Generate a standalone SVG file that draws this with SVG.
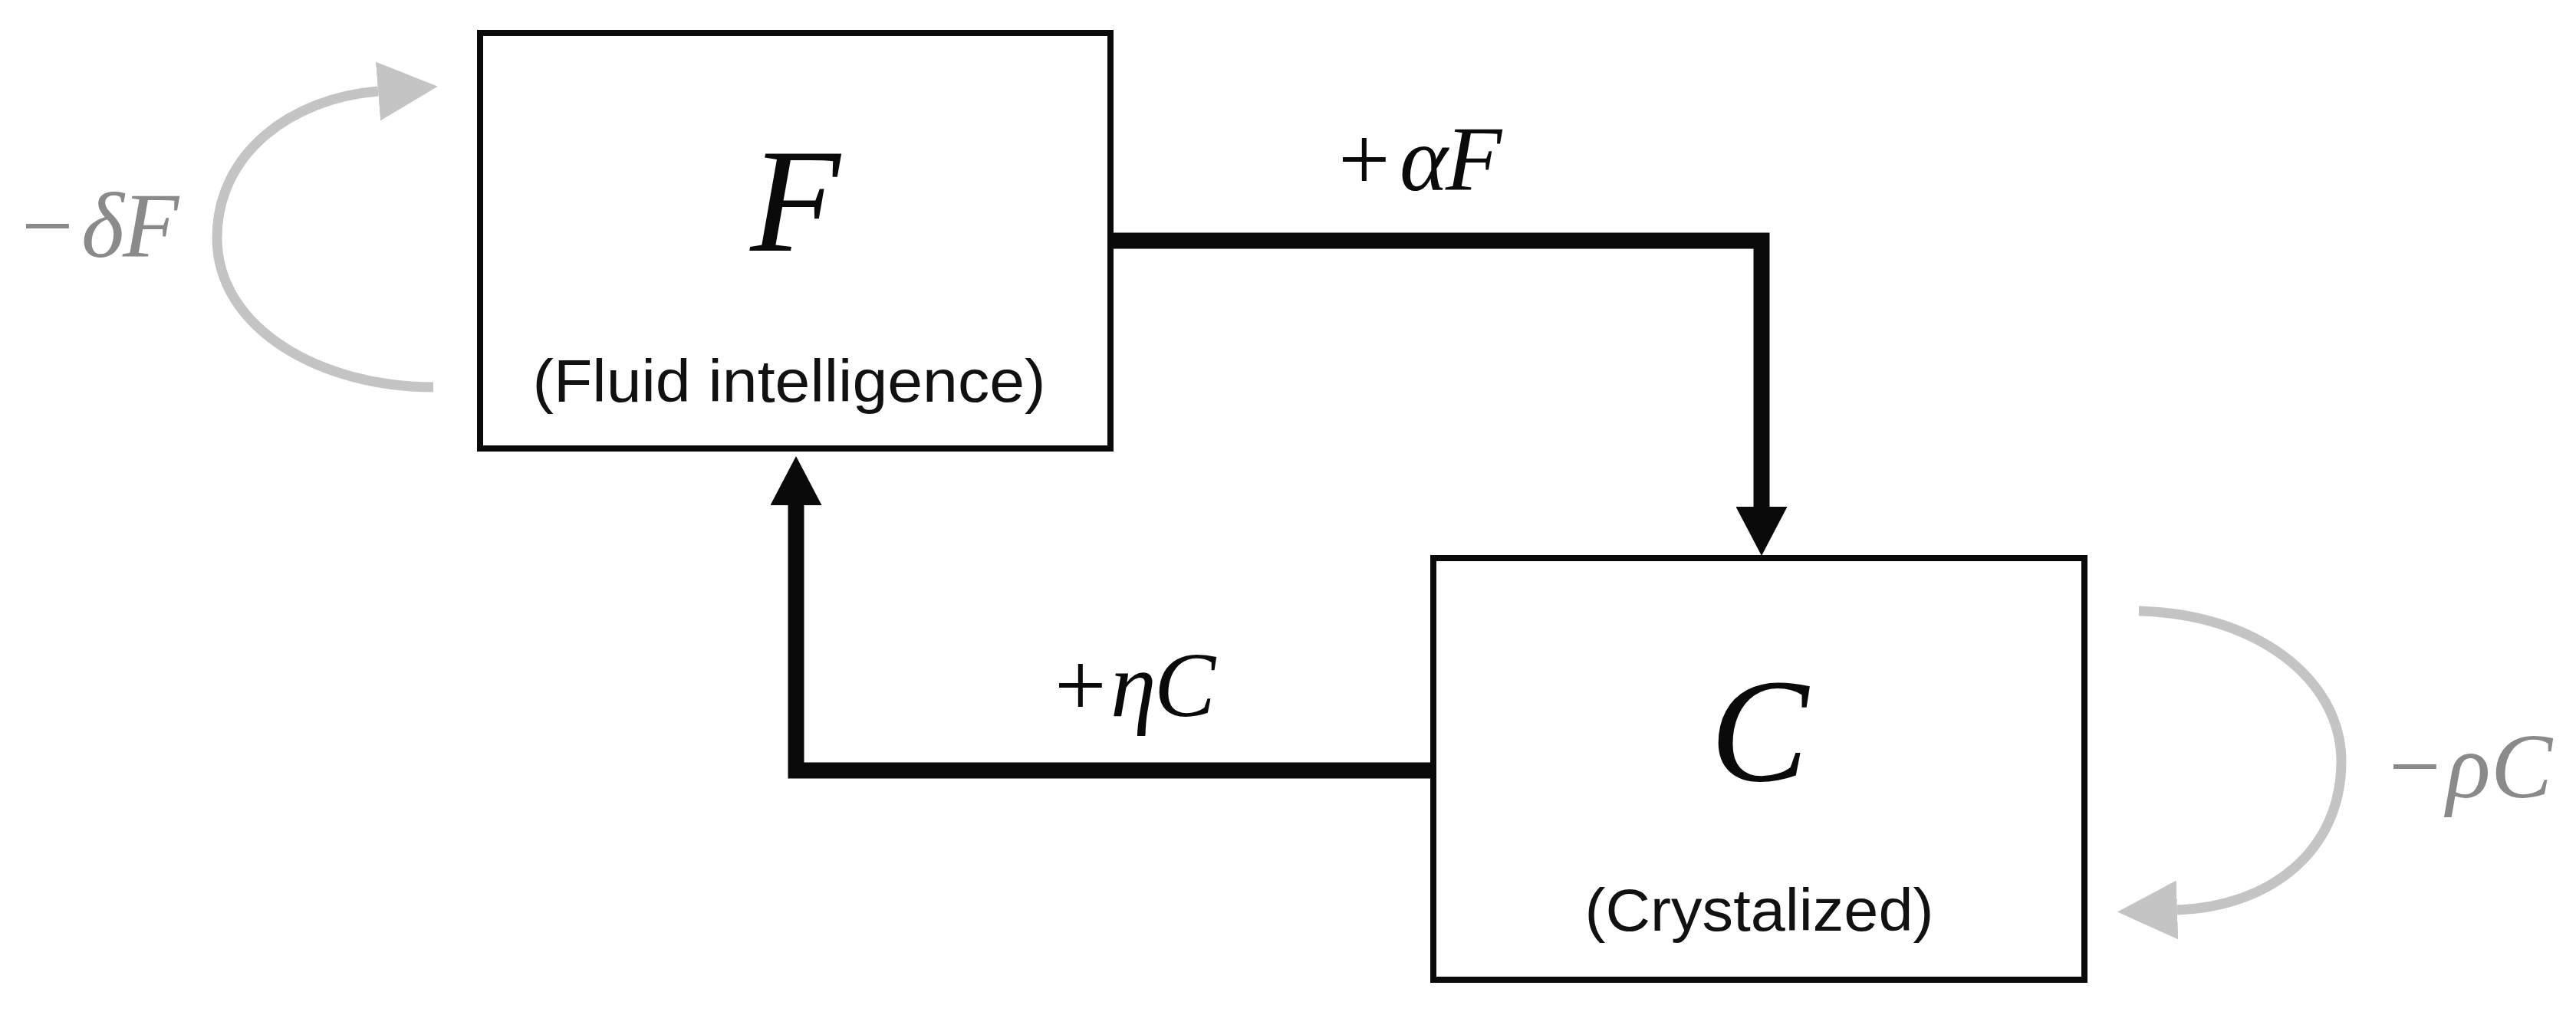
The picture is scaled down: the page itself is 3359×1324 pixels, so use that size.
<svg xmlns="http://www.w3.org/2000/svg" width="3359" height="1324" viewBox="0 0 3359 1324">
<defs>
<style>
.box{fill:#fff;stroke:#0a0a0a;stroke-width:8}
.conn{fill:none;stroke:#0a0a0a;stroke-width:21;stroke-linejoin:miter}
.loop{fill:none;stroke:#c4c4c4;stroke-width:13}
.math{font-family:"Liberation Serif","DejaVu Serif",serif;font-size:120px}
.big{font-family:"Liberation Serif","DejaVu Serif",serif;font-size:192px;font-style:italic;fill:#0a0a0a}
.it{font-style:italic}
.sub{font-family:"Liberation Sans",Arial,sans-serif;font-size:78px;fill:#111}
.blk{fill:#0a0a0a}
.gry{fill:#8a8a8a}
</style>
<marker id="ah" viewBox="0 0 64 67" refX="0" refY="33.5" markerWidth="64" markerHeight="67" markerUnits="userSpaceOnUse" orient="auto">
<path d="M0,0 L64,33.5 L0,67 Z" fill="#0a0a0a"/>
</marker>
<marker id="gh" viewBox="0 0 78 77" refX="0" refY="38.5" markerWidth="78" markerHeight="77" markerUnits="userSpaceOnUse" orient="auto">
<path d="M0,0 L78,38.5 L0,77 Z" fill="#c4c4c4"/>
</marker>
</defs>
<rect width="3359" height="1324" fill="#fff"/>
<g id="connectors">
<path class="conn" d="M1452,314 H2297 V661" marker-end="url(#ah)"/>
<path class="conn" d="M1865,1005 H1038 V659" marker-end="url(#ah)"/>
<path class="loop" d="M565,505 C420,505 283,430 283,310 C283,200 380,128 493,119" marker-end="url(#gh)"/>
<path class="loop" d="M2789,797 C2940,800 3053,885 3053,993 C3053,1110 2960,1183 2839,1187" marker-end="url(#gh)"/>
<text class="math blk" y="248"><tspan x="1745">+</tspan><tspan class="it" x="1825">α</tspan><tspan class="it" x="1885">F</tspan></text>
<text class="math blk" y="934"><tspan x="1375">+</tspan><tspan class="it" x="1448">η</tspan><tspan class="it" x="1505">C</tspan></text>
<text class="math gry" y="335"><tspan x="28">−</tspan><tspan class="it" x="106">δ</tspan><tspan class="it" x="160">F</tspan></text>
<text class="math gry" y="1040"><tspan x="3115">−</tspan><tspan class="it" x="3190">ρ</tspan><tspan class="it" x="3248">C</tspan></text>
</g>
<g id="node-F">
<rect class="box" x="626" y="43" width="822" height="542"/>
<text class="big" x="1037" y="327" text-anchor="middle">F</text>
<text class="sub" x="1029" y="524" text-anchor="middle" textLength="669" lengthAdjust="spacingAndGlyphs">(Fluid intelligence)</text>
</g>
<g id="node-C">
<rect class="box" x="1869" y="728" width="849" height="550"/>
<text class="big" x="2294" y="1018" text-anchor="middle">C</text>
<text class="sub" x="2294" y="1214" text-anchor="middle" textLength="455" lengthAdjust="spacingAndGlyphs">(Crystalized)</text>
</g>
</svg>
